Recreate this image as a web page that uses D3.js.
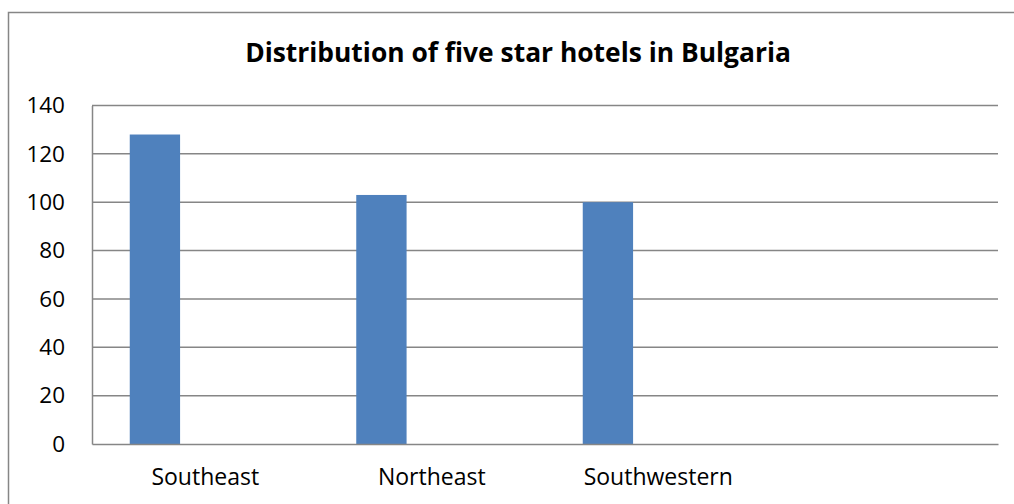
<!DOCTYPE html>
<html>
<head>
<meta charset="utf-8">
<script src="https://cdn.jsdelivr.net/npm/d3@7"></script>
<style>
html,body{margin:0;padding:0;background:#fff;}
svg{display:block;}
</style>
</head>
<body>
<svg id="chart" width="1014" height="504"></svg>
<script>
const title = "Distribution of five star hotels in Bulgaria";
const categories = ["Southeast", "Northeast", "Southwestern", ""];
const seriesNames = ["Series1", "Series2", "Series3"];
const series1 = [128, 103, 100, null];
const series2 = [null, null, null, null];
const series3 = [null, null, null, null];
const yTicks = [0, 20, 40, 60, 80, 100, 120, 140];

const seriesValues = [series1, series2, series3];
const svg = d3.select("#chart");
const margin = {left: 92, top: 105.5, right: 16, bottom: 60};
const W = 1014, H = 504;
const plotW = W - margin.left - margin.right;
const plotH = H - margin.top - margin.bottom;

// outer frame
svg.append("rect").attr("x", 8.5).attr("y", 12.5).attr("width", 1020).attr("height", 500)
  .attr("fill", "none").attr("stroke", "#868686").attr("stroke-width", 1.5);

svg.append("text").attr("x", 518).attr("y", 62).attr("text-anchor", "middle")
  .attr("font-family", "Open Sans").attr("font-weight", "bold").attr("font-size", 26.4)
  .attr("fill", "#000").text(title);

const g = svg.append("g").attr("transform", `translate(${margin.left},${margin.top})`);
const x0 = d3.scaleBand().domain(d3.range(categories.length)).range([0, plotW]).padding(0);
const x1 = d3.scaleBand().domain(seriesNames).range([0, x0.bandwidth()]).paddingInner(0).paddingOuter(0.75);
const y = d3.scaleLinear().domain([0, 140]).range([plotH, 0]);

// gridlines
g.append("g").selectAll("line").data(yTicks.filter(t => t > 0)).join("line")
  .attr("x1", 0).attr("x2", plotW).attr("y1", d => y(d)).attr("y2", d => y(d))
  .attr("stroke", "#868686").attr("stroke-width", 1.5);

// bars
const groups = g.append("g").selectAll("g").data(categories).join("g")
  .attr("transform", (d, i) => `translate(${x0(i)},0)`);
groups.selectAll("rect").data((d, i) => seriesNames.map((s, k) => ({s, v: seriesValues[k][i]})).filter(e => e.v != null))
  .join("rect")
  .attr("x", d => x1(d.s)).attr("width", x1.bandwidth())
  .attr("y", d => y(d.v)).attr("height", d => plotH - y(d.v))
  .attr("fill", "#4F81BD");

// y axis
const yAxis = g.append("g").call(d3.axisLeft(y).tickValues(yTicks).tickSize(0).tickPadding(27));
yAxis.select(".domain").attr("stroke", "#868686").attr("stroke-width", 1.5);
yAxis.selectAll("text").attr("font-family", "Open Sans").attr("font-size", 22.5).attr("fill", "#000");

// x axis
const xAxis = g.append("g").attr("transform", `translate(0,${plotH})`)
  .call(d3.axisBottom(x0).tickSize(0).tickPadding(25).tickFormat(i => categories[i]));
xAxis.select(".domain").attr("stroke", "#868686").attr("stroke-width", 1.5);
xAxis.selectAll("text").attr("font-family", "Open Sans").attr("font-size", 23).attr("fill", "#000");
</script>
</body>
</html>
